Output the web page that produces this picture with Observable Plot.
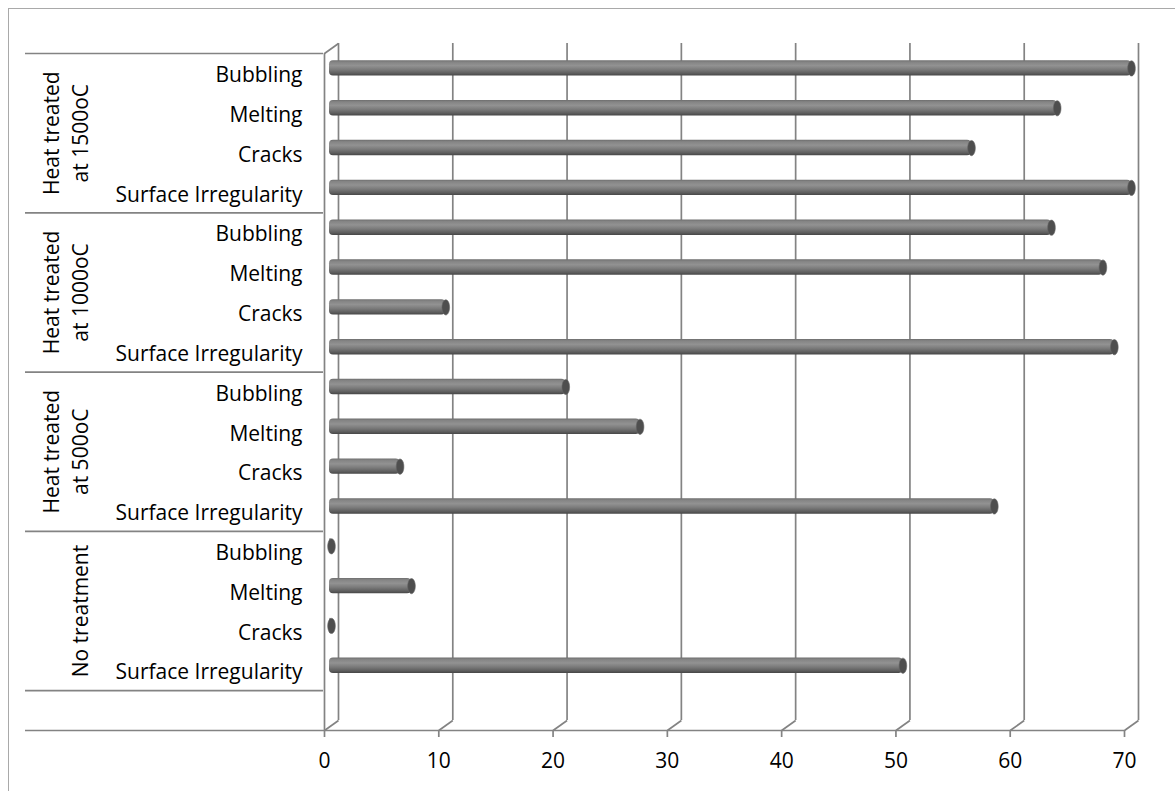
<!DOCTYPE html>
<html>
<head>
<meta charset="utf-8">
<script src="https://cdn.jsdelivr.net/npm/d3@7"></script>
<script src="https://cdn.jsdelivr.net/npm/@observablehq/plot@0.6"></script>
<style>
  html, body { margin: 0; padding: 0; background: #ffffff; overflow: hidden; }
  #wrap { position: relative; width: 1175px; height: 791px; overflow: hidden; background: #ffffff; }
  #border { position: absolute; left: 8px; top: 8px; width: 1300px; height: 900px; border: 1.5px solid #a9a9a9; }
  #chart { position: absolute; left: 0; top: 0; }
</style>
</head>
<body>
<div id="wrap">
  <div id="border"></div>
  <div id="chart"></div>
</div>
<script>
// ---- data (bottom-to-top order, as in the category axis) ----
const groups = ["No treatment", "Heat treated\nat 500oC", "Heat treated\nat 1000oC", "Heat treated\nat 1500oC"];
const defects = ["Surface Irregularity", "Cracks", "Melting", "Bubbling"];
const noTreatment = [50, 0, 7, 0];
const heat500 = [58, 6, 27, 20.5];
const heat1000 = [68.5, 10, 67.5, 63];
const heat1500 = [70, 56, 63.5, 70];
const xTicks = [0, 10, 20, 30, 40, 50, 60, 70];

const groupValues = [noTreatment, heat500, heat1000, heat1500];
const rows = [];
groups.forEach((g, gi) => {
  defects.forEach((d, di) => {
    rows.push({group: g, defect: d, value: groupValues[gi][di], slot: 1 + gi * 4 + di});
  });
});
const groupRows = groups.map((g, gi) => ({group: g, center: 1 + gi * 4 + 2}));
const separators = groups.map((g, gi) => 1 + gi * 4).concat([1 + groups.length * 4]);
const nSlots = 1 + groups.length * 4;

const gridColor = "#838383";
const svgNS = "http://www.w3.org/2000/svg";

// defs for the cylinder shading
function defsMark() {
  const defs = document.createElementNS(svgNS, "defs");
  defs.innerHTML = `
    <linearGradient id="cyl" x1="0" y1="0" x2="0" y2="1">
      <stop offset="0" stop-color="#6e6e6e"/>
      <stop offset="0.12" stop-color="#848484"/>
      <stop offset="0.35" stop-color="#929292"/>
      <stop offset="0.6" stop-color="#7b7b7b"/>
      <stop offset="0.85" stop-color="#5e5e5e"/>
      <stop offset="1" stop-color="#464646"/>
    </linearGradient>`;
  return defs;
}

// elliptical end cap of a cylinder
const capSymbol = {
  draw(ctx) {
    const rx = 3.8, ry = 7.6, k = 0.5523;
    ctx.moveTo(rx, 0);
    ctx.bezierCurveTo(rx, ry * k, rx * k, ry, 0, ry);
    ctx.bezierCurveTo(-rx * k, ry, -rx, ry * k, -rx, 0);
    ctx.bezierCurveTo(-rx, -ry * k, -rx * k, -ry, 0, -ry);
    ctx.bezierCurveTo(rx * k, -ry, rx, -ry * k, rx, 0);
    ctx.closePath();
  }
};
// depth diagonal (front plane -> back plane)
const depthSymbol = {
  draw(ctx) {
    ctx.moveTo(0, 0);
    ctx.lineTo(14, -10);
  }
};

const chart = Plot.plot({
  width: 1175,
  height: 791,
  marginLeft: 25,
  marginRight: 51,
  marginTop: 53,
  marginBottom: 61,
  x: {domain: [0, 70], range: [324, 1124], axis: null},
  y: {domain: [0, nSlots], axis: null},
  style: {fontFamily: "'Open Sans', sans-serif", fontSize: "21px", background: "transparent", color: "black"},
  marks: [
    defsMark,
    // back-wall gridlines
    Plot.ruleX(xTicks, {x: d => d, y1: 0, y2: nSlots, dx: 14, dy: -10, stroke: gridColor, strokeWidth: 1.7}),
    // floor diagonals
    Plot.dot(xTicks, {x: d => d, y: 0, symbol: depthSymbol, fill: "none", stroke: gridColor, strokeWidth: 1.7}),
    // left wall front edge and top diagonal
    Plot.ruleX([0], {y1: 0, y2: nSlots, stroke: gridColor, strokeWidth: 1.7}),
    Plot.dot([0], {x: d => d, y: nSlots, symbol: depthSymbol, fill: "none", stroke: gridColor, strokeWidth: 1.7}),
    // floor front line
    Plot.ruleY([0], {stroke: gridColor, strokeWidth: 1.7}),
    // category table separators
    Plot.ruleY(separators, {insetRight: 801, stroke: gridColor, strokeWidth: 1.7}),
    // cylinders
    Plot.rect(rows, {x1: 0, x2: "value", y1: "slot", y2: d => d.slot + 1, insetTop: 12.2, insetBottom: 12.2, insetLeft: -2, dx: 7, dy: -5, rx: 4, fill: "url(#cyl)"}),
    Plot.dot(rows, {x: "value", y: d => d.slot + 0.5, dx: 7, dy: -5, symbol: capSymbol, fill: "#4e4e4e", stroke: "#656565", strokeWidth: 0.6}),
    // category labels
    Plot.text(rows, {x: 0, y: d => d.slot + 0.5, text: "defect", textAnchor: "end", dx: -22, dy: 2, fill: "black", fontSize: 21}),
    // group labels
    Plot.text(groupRows, {frameAnchor: "left", y: "center", text: "group", rotate: -90, textAnchor: "middle", lineAnchor: "bottom", lineHeight: 1.38, dx: 62, fill: "black", fontSize: 21}),
    // value axis
    Plot.axisX(xTicks, {anchor: "bottom", tickSize: 7, tickPadding: 16, stroke: gridColor, strokeWidth: 1.7, fill: "black", fontSize: 21, label: null})
  ]
});
document.getElementById("chart").appendChild(chart);
</script>
</body>
</html>
